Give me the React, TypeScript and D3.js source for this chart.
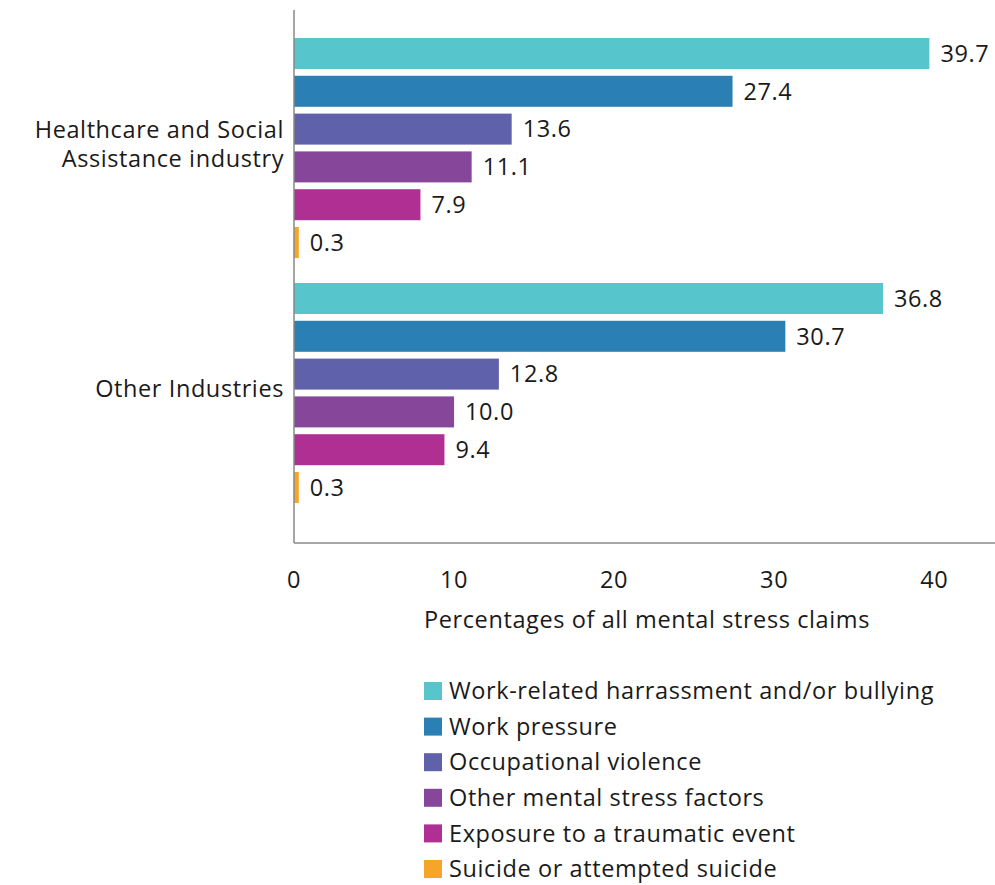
import React from "react";
import * as d3 from "d3";

const groups = ["Healthcare and Social Assistance industry", "Other Industries"];
const groupLines = [["Healthcare and Social", "Assistance industry"], ["Other Industries"]];
const series = [
  "Work-related harrassment and/or bullying",
  "Work pressure",
  "Occupational violence",
  "Other mental stress factors",
  "Exposure to a traumatic event",
  "Suicide or attempted suicide",
];
const colors = ["#56C5CC", "#2A7FB5", "#5F62AA", "#86479B", "#B02F92", "#F5A52A"];
const healthcare = [39.7, 27.4, 13.6, 11.1, 7.9, 0.3];
const other = [36.8, 30.7, 12.8, 10.0, 9.4, 0.3];
const valuesByGroup = [healthcare, other];
const xTicks = [0, 10, 20, 30, 40];

const W = 995;
const H = 885;
const FONT = "'Open Sans', sans-serif";
const FS = 23.5;
const LS = 0.6;
const LINE_H = 29;
const TEXT = "#1a1a1a";

export default function App() {
  const x = d3.scaleLinear().domain([0, 43.8]).range([294, 995]);
  const y0 = d3.scaleBand<string>().domain(groups).range([25.5, 515.5]).padding(0);
  const y1 = d3
    .scaleBand<string>()
    .domain(series)
    .range([0, y0.bandwidth()])
    .paddingInner(0.18)
    .paddingOuter(0.33);
  const fmt = d3.format(".1f");
  const legendY = d3.scalePoint<string>().domain(series).range([691, 869]);

  return (
    <svg
      width={W}
      height={H}
      style={{ position: "absolute", left: 0, top: 0, background: "#fff" }}
      fontFamily={FONT}
      letterSpacing={LS}
    >
      {groups.map((g, gi) => (
        <g key={g} transform={`translate(0,${y0(g)})`}>
          {series.map((s, si) => {
            const v = valuesByGroup[gi][si];
            const yy = y1(s)!;
            return (
              <g key={s}>
                <rect
                  x={x(0)}
                  y={yy}
                  width={x(v) - x(0)}
                  height={y1.bandwidth()}
                  fill={colors[si]}
                />
                <text
                  x={x(v) + 11}
                  y={yy + y1.bandwidth() / 2}
                  dy="0.35em"
                  fontSize={FS}
                  fill={TEXT}
                >
                  {fmt(v)}
                </text>
              </g>
            );
          })}
          {groupLines[gi].map((ln, li) => (
            <text
              key={li}
              x={284}
              y={
                y0.bandwidth() / 2 -
                ((groupLines[gi].length - 1) * LINE_H) / 2 -
                4 +
                li * LINE_H
              }
              dy="0.35em"
              textAnchor="end"
              fontSize={FS}
              fill={TEXT}
            >
              {ln}
            </text>
          ))}
        </g>
      ))}
      <line x1={294} x2={294} y1={10} y2={543} stroke="#888" strokeWidth={1.5} />
      <line x1={294} x2={995} y1={543} y2={543} stroke="#888" strokeWidth={1.5} />
      {xTicks.map((t) => (
        <text
          key={t}
          x={x(t)}
          y={580}
          dy="0.35em"
          textAnchor="middle"
          fontSize={FS}
          fill={TEXT}
        >
          {t}
        </text>
      ))}
      <text x={647} y={620} dy="0.35em" textAnchor="middle" fontSize={FS} fill={TEXT}>
        Percentages of all mental stress claims
      </text>
      {series.map((s, si) => (
        <g key={s} transform={`translate(424,${legendY(s)})`}>
          <rect x={0} y={-9} width={18} height={18} fill={colors[si]} />
          <text x={25} y={0} dy="0.35em" fontSize={FS} fill={TEXT}>
            {s}
          </text>
        </g>
      ))}
    </svg>
  );
}
